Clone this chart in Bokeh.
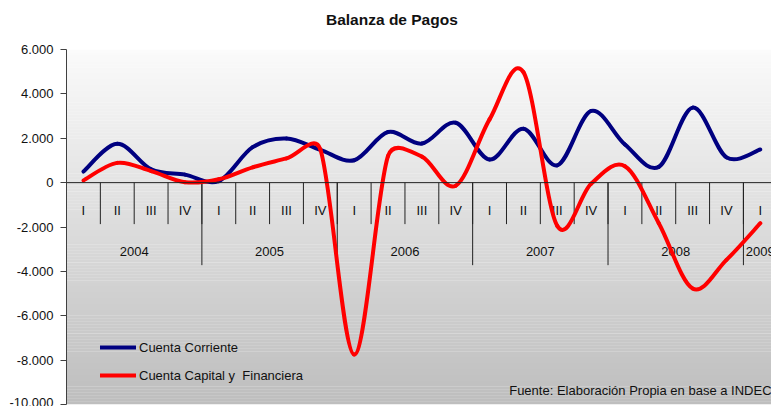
import numpy as np
from bokeh.plotting import figure
from bokeh.layouts import column
from bokeh.models import (Range1d, FixedTicker, Span, Legend, LegendItem, Label,
                          ColumnDataSource, Div)
from bokeh.core.properties import value
from bokeh.embed import file_html
from bokeh.resources import INLINE

# ---------------- data ----------------
years = ["2004", "2005", "2006", "2007", "2008", "2009"]
quarters = ["I", "II", "III", "IV"] * 5 + ["I"]
quarter_year = [y for y in years[:5] for _ in range(4)] + ["2009"]
cuenta_corriente = [500, 1750, 600, 360, 70, 1600, 1990, 1480, 1010, 2280, 1760,
                    2700, 1040, 2430, 780, 3230, 1720, 710, 3380, 1140, 1490]
cuenta_capital = [100, 890, 520, 20, 150, 690, 1090, 1500, -7750, 1200, 1170,
                  -140, 2850, 4980, -1950, -50, 740, -1830, -4770, -3480, -1830]
y_ticks = [-10000, -8000, -6000, -4000, -2000, 0, 2000, 4000, 6000]
y_tick_labels = ["-10.000", "-8.000", "-6.000", "-4.000", "-2.000", "0",
                 "2.000", "4.000", "6.000"]
title_text = "Balanza de Pagos"
source_text = "Fuente: Elaboración Propia en base a INDEC"

# ---------------- layout ----------------
W, H_TOTAL = 771, 406
DIV_H = 32
H = H_TOTAL - DIV_H
ML, MT, MB, MR = 66, 49 - DIV_H, 2, 0
X_END = 20.83
Y0, Y1 = -10000, 6000
FONT = "Liberation Sans"
FRAME_H = H - MT - MB

title_div = Div(
    text=('<div style="position:absolute; left:326px; top:10px; white-space:nowrap; '
          'font-family:\'Liberation Sans\'; font-size:15.5px; font-weight:bold; '
          'color:#111111; line-height:20px;">%s</div>' % title_text),
    width=W, height=DIV_H, margin=(0, 0, 0, 0),
    styles={"background-color": "white"})

p = figure(width=W, height=H, output_backend="svg", toolbar_location=None,
           x_range=Range1d(0, X_END), y_range=Range1d(Y0, Y1), title=None,
           min_border_left=ML, min_border_top=MT, min_border_bottom=MB,
           min_border_right=MR, margin=(0, 0, 0, 0))
p.outline_line_color = None
p.xgrid.visible = False
p.ygrid.visible = False
p.xaxis.visible = False
p.background_fill_color = "white"
p.border_fill_color = "white"

# y axis
yax = p.yaxis[0]
yax.ticker = FixedTicker(ticks=y_ticks)
yax.major_label_overrides = {t: l for t, l in zip(y_ticks, y_tick_labels)}
yax.major_label_text_font = FONT
yax.major_label_text_font_size = "13px"
yax.major_label_text_color = "#111111"
yax.axis_line_color = "#404040"
yax.major_tick_line_color = "#404040"
yax.major_tick_in = 0
yax.major_tick_out = 6
yax.minor_tick_line_color = None
yax.major_label_standoff = 7

# background gradient
n_bands = 120
edges = np.linspace(Y1, Y0, n_bands + 1)
shade = np.linspace(251, 190, n_bands).astype(int)
cols = ["#%02x%02x%02x" % (s, s, s) for s in shade]
p.quad(left=0, right=21, top=edges[:-1] + 5, bottom=edges[1:] - 5,
       fill_color=cols, line_color=None)

# category axis drawn at y = 0
n = len(quarters)
xc = np.arange(n) + 0.5
p.add_layout(Span(location=0, dimension="width", line_color="#222222", line_width=1))
q_bounds = np.arange(1, n + 1)
p.segment(x0=q_bounds, y0=0, x1=q_bounds, y1=-1870, line_color="#222222", line_width=1)
y_bounds = [i for i in range(1, n + 1) if i % 4 == 0]
p.segment(x0=y_bounds, y0=0, x1=y_bounds, y1=-3720, line_color="#222222", line_width=1)
p.text(x=xc, y=-1250, text=quarters, text_font=value(FONT), text_font_size="13px",
       text_align="center", text_baseline="middle", text_color="#111111")
year_x = [float(np.mean([xc[i] for i in range(n) if quarter_year[i] == y])) for y in years]
p.text(x=year_x, y=-3110, text=years, text_font=value(FONT), text_font_size="13px",
       text_align="center", text_baseline="middle", text_color="#111111")

# smoothed lines (Excel-like bezier smoothing, computed in pixel space)
sx = (W - ML - MR) / X_END
sy = FRAME_H / (Y1 - Y0)


def bezier_source(xs, ys):
    P = np.column_stack([np.asarray(xs) * sx, np.asarray(ys) * sy])
    m = len(P)
    d = dict(x0=[], y0=[], x1=[], y1=[], cx0=[], cy0=[], cx1=[], cy1=[])
    for i in range(m - 1):
        p0 = P[i - 1] if i > 0 else P[i]
        p1, p2 = P[i], P[i + 1]
        p3 = P[i + 2] if i + 2 < m else P[i + 1]
        d12 = np.linalg.norm(p2 - p1)
        d02 = np.linalg.norm(p2 - p0)
        d13 = np.linalg.norm(p3 - p1)
        f1 = 1 / 6 if d02 / 6 < d12 / 2 else d12 / d02 / 2
        f2 = 1 / 6 if d13 / 6 < d12 / 2 else d12 / d13 / 2
        c1 = p1 + (p2 - p0) * f1
        c2 = p2 - (p3 - p1) * f2
        d["x0"].append(p1[0] / sx); d["y0"].append(p1[1] / sy)
        d["x1"].append(p2[0] / sx); d["y1"].append(p2[1] / sy)
        d["cx0"].append(c1[0] / sx); d["cy0"].append(c1[1] / sy)
        d["cx1"].append(c2[0] / sx); d["cy1"].append(c2[1] / sy)
    return ColumnDataSource(d)


r_cc = p.bezier(x0="x0", y0="y0", x1="x1", y1="y1", cx0="cx0", cy0="cy0",
                cx1="cx1", cy1="cy1", source=bezier_source(xc, cuenta_corriente),
                line_color="#000080", line_width=4, line_cap="round")
r_ck = p.bezier(x0="x0", y0="y0", x1="x1", y1="y1", cx0="cx0", cy0="cy0",
                cx1="cx1", cy1="cy1", source=bezier_source(xc, cuenta_capital),
                line_color="#ff0000", line_width=4, line_cap="round")

legend = Legend(items=[LegendItem(label="Cuenta Corriente", renderers=[r_cc]),
                       LegendItem(label="Cuenta Capital y  Financiera", renderers=[r_ck])],
                location=(34, 19), orientation="vertical",
                background_fill_alpha=0, border_line_alpha=0, padding=0, margin=0,
                spacing=8, glyph_width=36, glyph_height=20, label_height=20,
                label_standoff=3, label_text_font=FONT, label_text_font_size="13px",
                label_text_color="#111111")
p.add_layout(legend, "center")

p.add_layout(Label(x=13.08, y=-9350, text=source_text,
                   text_font=FONT, text_font_size="13px", text_baseline="middle",
                   text_color="#111111"))

layout = column(title_div, p, spacing=0, margin=(0, 0, 0, 0))
open("out.html", "w").write(file_html(layout, INLINE))
